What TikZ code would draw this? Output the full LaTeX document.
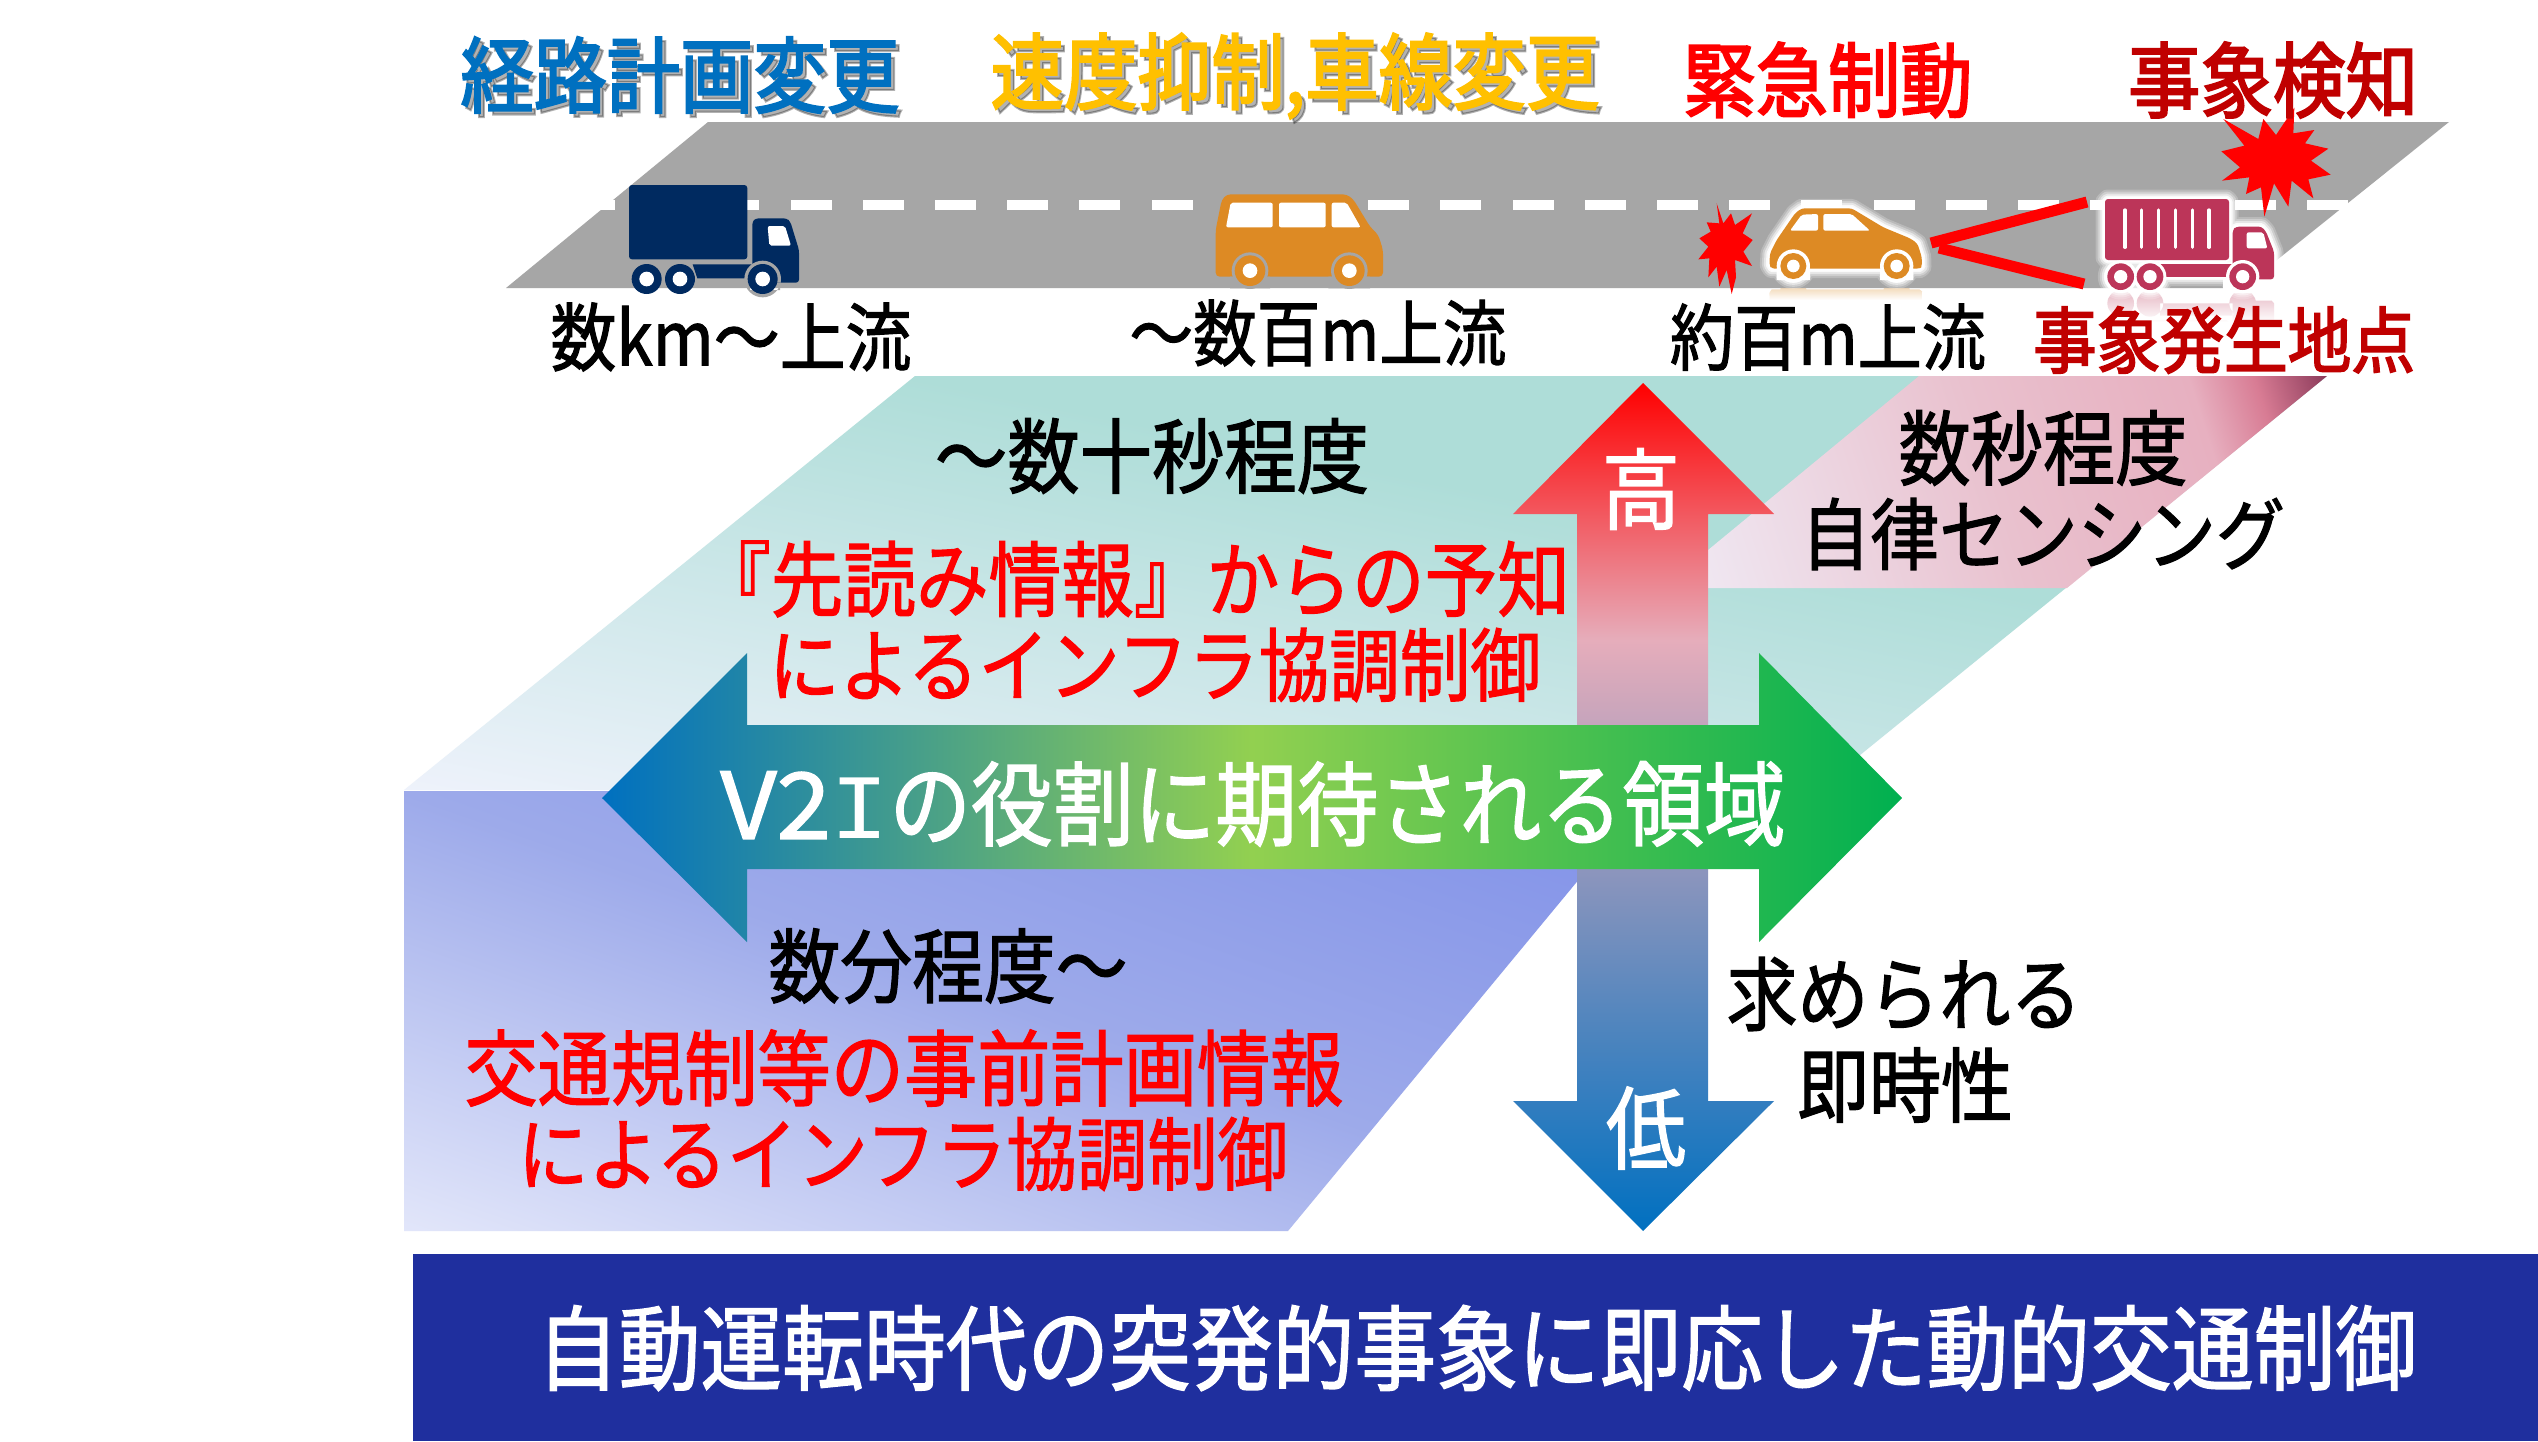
\documentclass[tikz,border=0pt]{standalone}
\usepackage{fontspec}
\usepackage{graphicx}
\usetikzlibrary{fadings}
\setmainfont{Noto Sans CJK JP}
\newfontfamily\jpreg{Noto Sans CJK JP}[FakeBold=1.6]
\newfontfamily\jpbold{Noto Sans CJK JP}[FakeBold=2.6]
\newfontfamily\serifcap{Liberation Mono}

\definecolor{roadgray}{HTML}{A6A6A6}
\definecolor{navybody}{HTML}{002A60}
\definecolor{amberbody}{HTML}{DD8A24}
\definecolor{winebody}{HTML}{BC3559}
\definecolor{bandblue}{HTML}{1F2F9E}
\definecolor{planblue}{HTML}{0070C0}
\definecolor{planamber}{HTML}{FFC000}
\definecolor{alertred}{HTML}{FF0000}
\definecolor{eventred}{HTML}{C00000}

% Axial ramps: 25bp and 75bp are the two ends of the gradient line
\pgfdeclarehorizontalshading{tealramp}{100bp}{rgb(0bp)=(.933,.949,.984); rgb(25bp)=(.933,.949,.984);
  rgb(57.3bp)=(.682,.867,.847); rgb(100bp)=(.682,.867,.847)}
\pgfdeclarehorizontalshading{pinkramp}{100bp}{rgb(0bp)=(.941,.925,.965); rgb(25bp)=(.941,.925,.965);
  rgb(50bp)=(.914,.757,.808); rgb(65.5bp)=(.906,.690,.753); rgb(70bp)=(.847,.486,.580);
  rgb(75bp)=(.545,.227,.353); rgb(100bp)=(.545,.227,.353)}
\pgfdeclarehorizontalshading{lavramp}{100bp}{rgb(0bp)=(.886,.902,.980); rgb(25bp)=(.886,.902,.980);
  rgb(50bp)=(.616,.667,.918); rgb(75bp)=(.500,.565,.910); rgb(100bp)=(.500,.565,.910)}
\pgfdeclarehorizontalshading{wideramp}{100bp}{rgb(0bp)=(0,.439,.753); rgb(25bp)=(0,.439,.753);
  rgb(50bp)=(.573,.816,.314); rgb(75bp)=(0,.690,.314); rgb(100bp)=(0,.690,.314)}
\pgfdeclarehorizontalshading{urgencyramp}{100bp}{rgb(0bp)=(1,0,0); rgb(25bp)=(1,0,0);
  rgb(40.15bp)=(.902,.678,.733); rgb(75bp)=(0,.439,.753); rgb(100bp)=(0,.439,.753)}

% Polygon filled along the gradient line (x0,y0)-(x1,y1)
\newcommand{\rampfill}[6]{%
  \begin{scope}
    \clip #1;
    \pgfmathsetmacro{\rampang}{atan2(#4-#6,#5-#3)}
    \pgfmathsetmacro{\ramplen}{veclen(#5-#3,#6-#4)}
    \shade[shading=#2,transform canvas={shift={(#3,#4)},rotate=\rampang}]
      (0,-2600) rectangle (\ramplen,2600);
  \end{scope}}

% Label scaled to a set width, with tall glyph proportions
\newcommand{\lbl}[6]{\node[lbltext,text=#5] (#1) at (#2,#3) {\resizebox{#4pt}{!}{\scalebox{1}[1.13]{#6}}};}
\newcommand{\shadowlbl}[6]{%
  \node[lbltext,text=black,opacity=.3] (#1shade) at (#2+4,#3+4) {\resizebox{#4pt}{!}{\scalebox{1}[1.13]{#6}}};
  \lbl{#1}{#2}{#3}{#4}{#5}{#6}}

\tikzset{
  lbltext/.style={inner sep=0pt,outer sep=0pt,anchor=center,font=\fontsize{72}{80}\selectfont\jpreg},
  zoomat/.style args={#1,#2}{shift={(#1,#2)},x=.33333pt,y=-.33333pt},
  beam/.style={draw=alertred,line width=11pt},
  burst/.style={fill=alertred},
}

% Outlines of the two vehicles that carry a white glow
\newcommand{\carpath}{(275,236) -- (268,225) -- (270,190) -- (290,150) -- (345,70) -- (365,55) -- (515,55)
  -- (610,112) -- (690,145) -- (712,160) -- (725,200) -- (726,230) -- (718,236) -- cycle
  (340,228) circle[radius=40] (650,228) circle[radius=40]}
\newcommand{\linerpath}{(525,65) -- (533,57) -- (889,57) -- (897,65) -- (897,232) -- (889,240) -- (533,240) -- (525,232) -- cycle
  (908,150) -- (918,140) -- (995,140) -- (1008,155) -- (1032,215) -- (1032,290) -- (1025,298) -- (908,298) -- cycle
  (690,253) rectangle (910,290)
  (572,290) circle[radius=40] (660,290) circle[radius=40] (938,290) circle[radius=40]}

\begin{document}
\begin{tikzpicture}[x=1pt,y=-1pt]
\useasboundingbox (0,0) rectangle (2538,1441);
\fill[white] (0,0) rectangle (2538,1441);

% Mirror images of the car and the lorry on the pale ground
\begin{scope}[shift={(0,558)},yscale=-1]
  \begin{scope}[zoomat={1680,190}]
    \fill[amberbody,opacity=.3] \carpath;
  \end{scope}
\end{scope}
\begin{scope}[shift={(0,580)},yscale=-1]
  \begin{scope}[zoomat={1930,180}]
    \fill[winebody,opacity=.38] \linerpath;
  \end{scope}
\end{scope}
\fill[white,path fading=north] (1750,288) rectangle (1940,300);
\fill[white] (1750,299.5) rectangle (1940,376);
\fill[white,path fading=north] (2090,288) rectangle (2290,322);
\fill[white] (2090,321.5) rectangle (2290,376);

% Road and lane marking
\fill[roadgray] (708,122) -- (2449,122) -- (2242,288) -- (506,288) -- cycle;
\foreach \k in {0,...,24}{
  \fill[white] ({574+72.2*\k},200) rectangle ++(41,9.5);
}

% Navy lorry, far upstream
\begin{scope}[zoomat={610,170}]
  \fill[navybody,rounded corners=3pt] (57,45) rectangle (412,268);
  \fill[navybody,rounded corners=3pt] (427,155) -- (437,145) -- (530,145) -- (541,155) -- (567,240) -- (567,338) -- (427,338) -- cycle;
  \fill[navybody] (248,283) -- (425,283) -- (405,325) -- (262,325) -- cycle;
  \fill[roadgray] (458,327) circle[radius=55] (420,338) rectangle (510,360);
  \fill[white,rounded corners=2pt] (473,168) -- (525,168) -- (543,227) -- (478,227) -- cycle;
  \foreach \c in {110,210,458}{
    \fill[navybody] (\c,327) circle[radius=45];
    \fill[white] (\c,327) circle[radius=22];
  }
\end{scope}

% Amber van
\begin{scope}[zoomat={1200,180}]
  \fill[amberbody,rounded corners=4pt] (47,150) -- (65,60) -- (80,43) -- (440,43) -- (460,58) -- (510,140) -- (535,165) -- (549,210) -- (549,290) -- (47,290) -- cycle;
  \fill[roadgray] (150,272) circle[radius=55] (448,272) circle[radius=55];
  \fill[roadgray] (90,290) rectangle (210,325) (385,290) rectangle (510,325);
  \foreach \c in {150,448}{
    \fill[amberbody] (\c,272) circle[radius=46];
    \fill[white] (\c,272) circle[radius=22];
  }
  \fill[white,rounded corners=2pt] (92,68) -- (218,68) -- (218,142) -- (78,142) -- cycle;
  \fill[white,rounded corners=2pt] (237,68) -- (377,68) -- (377,142) -- (237,142) -- cycle;
  \fill[white,rounded corners=2pt] (395,68) -- (440,68) -- (482,142) -- (395,142) -- cycle;
\end{scope}

% Amber car with glow
\begin{scope}[zoomat={1680,190}]
  \foreach \w/\o in {19/.22,15/.3,11/.5,7/.8,4/1}{
    \draw[white,line width=\w pt,opacity=\o,line join=round] \carpath;
  }
  \fill[amberbody,rounded corners=3pt] (275,236) -- (268,225) -- (270,190) -- (290,150) -- (345,70) -- (365,55) -- (515,55)
    -- (610,112) -- (690,145) -- (712,160) -- (725,200) -- (726,230) -- (718,236) -- cycle;
  \fill[white] (340,228) circle[radius=50] (650,228) circle[radius=50];
  \fill[white] (290,236) rectangle (390,270) (600,236) rectangle (700,270);
  \foreach \c in {340,650}{
    \fill[amberbody] (\c,228) circle[radius=39];
    \fill[white] (\c,228) circle[radius=19];
  }
  \fill[white,rounded corners=2pt] (330,122) -- (365,74) -- (414,72) -- (414,122) -- cycle;
  \fill[white,rounded corners=2pt] (430,72) -- (515,72) -- (570,122) -- (430,122) -- cycle;
\end{scope}

% Stopped lorry with glow
\begin{scope}[zoomat={1930,180}]
  \foreach \w/\o in {19/.22,15/.3,11/.5,7/.8,4/1}{
    \draw[white,line width=\w pt,opacity=\o,line join=round] \linerpath;
  }
  \fill[winebody,rounded corners=3pt] (525,57) rectangle (897,240);
  \fill[winebody,rounded corners=3pt] (908,150) -- (918,140) -- (995,140) -- (1008,155) -- (1032,215) -- (1032,298) -- (908,298) -- cycle;
  \fill[winebody] (690,253) rectangle (910,290);
  \fill[white] (938,290) circle[radius=50] (572,290) circle[radius=49] (660,290) circle[radius=49];
  \fill[white] (880,298) rectangle (985,340);
  \foreach \c in {572,660,938}{
    \fill[winebody] (\c,290) circle[radius=40];
    \fill[white] (\c,290) circle[radius=20];
  }
  \fill[white,rounded corners=2pt] (950,157) -- (1000,157) -- (1012,205) -- (950,205) -- cycle;
  \foreach \s in {585,635,685,736,787,837}{
    \draw[white,line width=3.3pt,line cap=round] (\s,90) -- (\s,202);
  }
\end{scope}

% Sensing beams between the lorry and the car
\coordinate (beamApex) at (1931,243);
\coordinate (beamUpper) at (2087,202);
\coordinate (beamFoot) at (1939,248);
\coordinate (beamLower) at (2084,284);
\draw[beam] (beamApex) -- (beamUpper);
\draw[beam] (beamFoot) -- (beamLower);

% Bursts
\begin{scope}[zoomat={2180,90}]
  \fill[burst] (343,53) -- (340,130) -- (403,120) -- (375,160) -- (445,176) -- (393,212) -- (452,254) -- (385,268) -- (400,325) -- (335,272) -- (325,350) -- (282,280) -- (253,380) -- (243,292) -- (198,312) -- (208,262) -- (126,272) -- (180,232) -- (124,184) -- (193,167) -- (130,87) -- (235,147) -- (250,87) -- (288,135) -- cycle;
\end{scope}
\begin{scope}[zoomat={1680,190}]
  \fill[burst] (110,40) -- (130,100) -- (153,70) -- (165,105) -- (216,70) -- (188,130) -- (218,150) -- (190,185) -- (216,228) -- (165,210) -- (168,262) -- (155,312) -- (140,240) -- (118,290) -- (110,230) -- (85,262) -- (88,205) -- (55,208) -- (85,170) -- (58,145) -- (92,125) -- (80,97) -- (118,100) -- cycle;
\end{scope}

% Time-horizon planes
\rampfill{(915,376) -- (2327,376) -- (1817,790) -- (404,790) -- cycle}{tealramp}{404}{790}{557}{23}
\rampfill{(404,791) -- (1652,791) -- (1288,1231) -- (404,1231) -- cycle}{lavramp}{404}{1231}{677}{450}
\rampfill{(1919,376) -- (2327,376) -- (2067,588) -- (1662,588) -- cycle}{pinkramp}{1662}{588}{2327}{376}

% Urgency arrow and role arrow
\rampfill{(1643,383) -- (1774,514) -- (1708,514) -- (1708,1101) -- (1774,1101) -- (1643,1231) -- (1513,1101) -- (1577,1101) -- (1577,514) -- (1513,514) -- cycle}{urgencyramp}{1643}{383}{1643}{1231}
\rampfill{(602,798) -- (747,653) -- (747,725) -- (1759,725) -- (1759,653) -- (1902,798) -- (1759,942) -- (1759,869) -- (747,869) -- (747,942) -- cycle}{wideramp}{602}{798}{1902}{798}

% Footer band
\fill[bandblue] (413,1254) rectangle (2538,1441);

% Headings above the road
\shadowlbl{hRoute}{680}{75}{439}{planblue}{\jpbold 経路計画変更}
\shadowlbl{hSpeed}{1295}{76}{609}{planamber}{\jpbold 速度抑制,車線変更}
\lbl{hBrake}{1828}{80}{289}{alertred}{\jpbold 緊急制動}
\lbl{hDetect}{2273}{80}{290}{eventred}{\jpbold 事象検知}

% Distances along the road
\lbl{dKm}{731}{337}{361}{black}{数km〜上流}
\lbl{dHundreds}{1318}{333}{377}{black}{〜数百m上流}
\lbl{dHundred}{1828}{337}{316}{black}{約百m上流}
\lbl{dEvent}{2224}{340}{382}{eventred}{\jpbold 事象発生地点}

% Plane captions
\lbl{tTens}{1152}{456}{434}{black}{〜数十秒程度}
\lbl{tAhead}{1134}{579}{872}{alertred}{『先読み情報』からの予知}
\lbl{tInfraA}{1155}{665}{772}{alertred}{によるインフラ協調制御}
\lbl{tSecs}{2043}{448}{289}{black}{数秒程度}
\lbl{tAuto}{2043}{534}{484}{black}{自律センシング}
\lbl{tMins}{948}{966}{359}{black}{数分程度〜}
\lbl{tPlan}{904}{1068}{879}{alertred}{交通規制等の事前計画情報}
\lbl{tInfraB}{903}{1154}{770}{alertred}{によるインフラ協調制御}

% Arrow captions
\lbl{aHigh}{1641}{489}{78}{white}{高}
\lbl{aLow}{1646}{1128}{80}{white}{低}
\lbl{aRole}{1253}{804}{1065}{white}{\scalebox{1.2}[1]{V2{\serifcap I}}の役割に期待される領域}
\lbl{aNeedA}{1904}{994}{355}{black}{求められる}
\lbl{aNeedB}{1905}{1085}{216}{black}{即時性}

% Footer text
\lbl{fTitle}{1477}{1348}{1880}{white}{自動運転時代の突発的事象に即応した動的交通制御}
\end{tikzpicture}
\end{document}
